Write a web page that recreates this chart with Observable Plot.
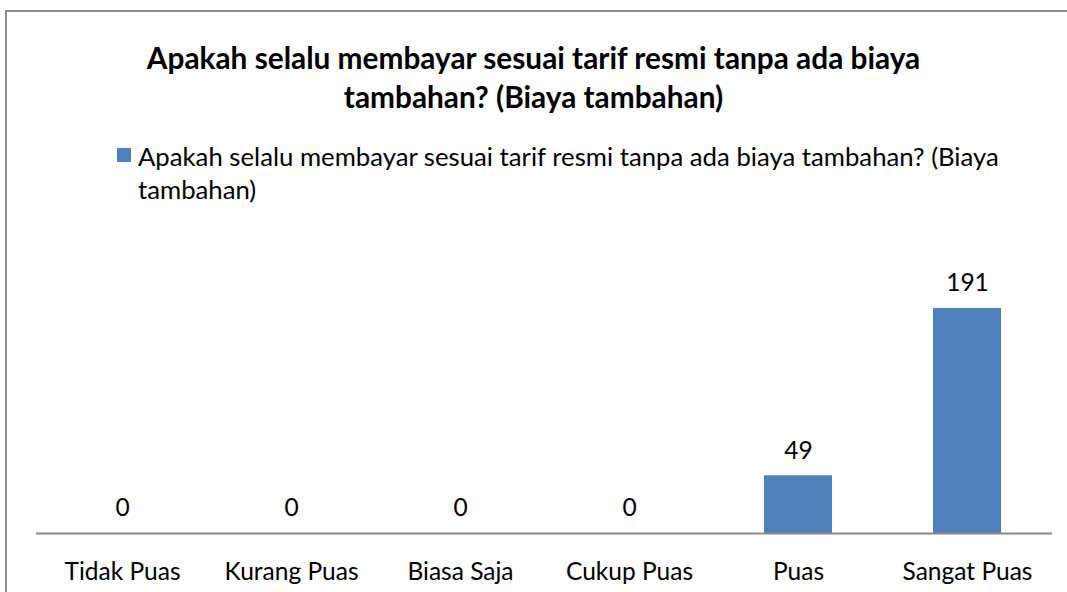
<!DOCTYPE html>
<html><head><meta charset="utf-8">
<script src="https://cdn.jsdelivr.net/npm/d3@7"></script>
<script src="https://cdn.jsdelivr.net/npm/@observablehq/plot@0.6"></script>
<style>
html,body{margin:0;padding:0;background:#fff;}
#chart{position:relative;width:1067px;height:592px;overflow:hidden;font-family:Lato, sans-serif;color:#000;background:#fff;}
#frame{position:absolute;left:5px;top:10px;width:1200px;height:800px;border:2px solid #8c8c8c;box-sizing:border-box;}
.line{position:absolute;white-space:nowrap;line-height:1;transform:translateY(-50%);}
.title{left:0;width:1067px;text-align:center;font-weight:bold;}
#plot{position:absolute;left:0;top:0;}
#swatch{position:absolute;left:117px;top:148px;width:14px;height:14px;background:#4F81BD;}
</style></head>
<body>
<div id="chart">
  <div id="frame"></div>
  <div id="plot"></div>
</div>
<script>
const titleLines = ["Apakah selalu membayar sesuai tarif resmi tanpa ada biaya", "tambahan? (Biaya tambahan)"];
const legendLines = ["Apakah selalu membayar sesuai tarif resmi tanpa ada biaya tambahan? (Biaya", "tambahan)"];
const categories = ["Tidak Puas", "Kurang Puas", "Biasa Saja", "Cukup Puas", "Puas", "Sangat Puas"];
const values = [0, 0, 0, 0, 49, 191];
const yMax = 250;

const FAMILY = "Lato";
const ctx = document.createElement("canvas").getContext("2d");
function fitSize(text, weight, target) {
  ctx.font = `${weight} 100px ${FAMILY}`;
  return 100 * target / ctx.measureText(text).width;
}
const titleSize = fitSize(titleLines[0], "bold", 775);
const legendSize = fitSize(legendLines[0], "normal", 862);
const catSize = fitSize("Sangat Puas", "normal", 130);

const chart = document.getElementById("chart");
function addLine(text, cls, top, size, left) {
  const d = document.createElement("div");
  d.className = "line " + cls;
  d.textContent = text;
  d.style.top = top + "px";
  d.style.fontSize = size + "px";
  if (left != null) d.style.left = left + "px";
  chart.appendChild(d);
}
addLine(titleLines[0], "title", 58, titleSize);
addLine(titleLines[1], "title", 97, titleSize);
const sw = document.createElement("div"); sw.id = "swatch"; chart.appendChild(sw);
addLine(legendLines[0], "", 157, legendSize, 138);
addLine(legendLines[1], "", 190, legendSize, 138);

const data = categories.map((c, i) => ({category: c, value: values[i]}));
const plot = Plot.plot({
  width: 1067, height: 592,
  marginLeft: 36, marginRight: 15, marginTop: 238.5, marginBottom: 59,
  style: {background: "transparent", fontFamily: FAMILY, color: "#000"},
  x: {domain: categories, paddingInner: 0.6, paddingOuter: 0.3, label: null},
  y: {domain: [0, yMax], axis: null},
  marks: [
    Plot.barY(data, {x: "category", y: "value", fill: "#4F81BD"}),
    Plot.ruleY([0], {stroke: "#8c8c8c", strokeWidth: 2}),
    Plot.text(data, {x: "category", y: "value", text: d => String(d.value), dy: -25, fontSize: catSize, fill: "#000"}),
    Plot.axisX({tickSize: 0, tickPadding: 29, fontSize: catSize, label: null, fill: "#000"})
  ]
});
document.getElementById("plot").appendChild(plot);
</script>
</body></html>
